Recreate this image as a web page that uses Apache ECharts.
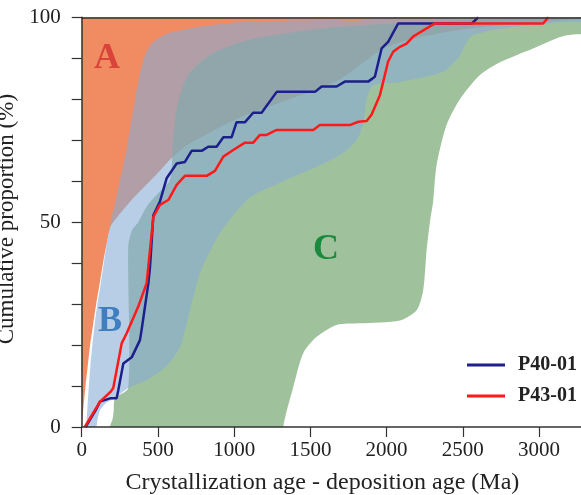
<!DOCTYPE html>
<html>
<head>
<meta charset="utf-8">
<script src="https://cdn.jsdelivr.net/npm/echarts@6/dist/echarts.min.js"></script>
<style>
  html, body { margin: 0; padding: 0; background: #fff; }
  #chart { width: 581px; height: 495px; }
</style>
</head>
<body>
<div id="chart"></div>
<script>
// x: crystallization age - deposition age (Ma), y: cumulative proportion (%)
var xTicks = [0, 500, 1000, 1500, 2000, 2500, 3000];
var yLabels = [0, 50, 100];

// field A (convergent) - outline, runs past the frame and is clipped
var fieldA = [
  [-40, -10], [0, 0], [12, 5], [25, 10], [40, 15], [55, 20], [75, 25], [95, 30],
  [118, 35], [140, 40], [165, 45], [190, 49], [228, 51], [317, 55], [420, 59],
  [524, 63], [600, 66], [700, 69], [800, 71], [950, 74], [1100, 76.5],
  [1250, 78.5], [1400, 80.5], [1550, 82.5], [1700, 85], [1850, 89],
  [1980, 92.4], [2200, 95], [2525, 97.2], [2800, 98.3], [3070, 99],
  [3275, 99.5], [3500, 100], [3500, 115], [-40, 115]
];

// field B (collisional)
var fieldB = [
  [25, -10], [30, 0], [38, 5], [47, 10], [57, 15], [70, 20], [85, 25], [103, 30],
  [125, 35], [145, 40], [165, 45], [180, 48], [195, 51], [215, 54], [250, 60],
  [295, 68], [350, 80], [393, 88], [430, 92], [470, 94], [557, 96], [754, 97.6],
  [1082, 98.9], [1628, 99.4], [1900, 100], [2100, 115], [3500, 115],
  [3500, 99.5], [3180, 98.9], [2743, 97.2], [2566, 95.6], [2525, 94],
  [2481, 90.7], [2371, 86.7], [2087, 84.2], [1912, 83.4], [1869, 80],
  [1847, 74], [1803, 70], [1700, 66.5], [1541, 63.5], [1322, 60], [1104, 56],
  [951, 49.7], [870, 45], [776, 37.5], [700, 27], [645, 19.5], [560, 15],
  [430, 11.5], [305, 9.5], [218, 7], [174, 6.2], [150, 5.5], [120, 4.1],
  [105, 2], [98, 0], [96, -10]
];

// field C (extensional)
var fieldC = [
  [180, -10], [186, 0], [203, 2], [210, 4], [218, 7], [305, 9.5], [305, 44],
  [330, 48], [370, 50], [430, 54], [500, 57], [575, 60], [590, 63], [600, 70],
  [630, 79], [700, 86], [850, 91], [1100, 94.5], [1640, 97.5], [2500, 99.3],
  [3275, 100], [3500, 101], [3500, 96.5], [3180, 95.6], [2961, 92.4],
  [2743, 89], [2612, 85.9], [2481, 80], [2393, 73.7], [2328, 64], [2305, 55],
  [2284, 50], [2262, 43], [2240, 33.4], [2197, 28.5], [2087, 26], [1825, 25.3],
  [1672, 24.9], [1541, 22], [1453, 18], [1388, 9.8], [1322, 0], [1310, -10]
];

var p40 = [
  [25, 0], [90, 4], [120, 6.2], [186, 7], [229, 7], [240, 9], [273, 15.5],
  [328, 17], [382, 21.2], [393, 23.7], [437, 35], [448, 39], [470, 51.7],
  [513, 55], [557, 60.7], [623, 64.3], [677, 64.7], [721, 67.4], [787, 67.4],
  [830, 68.4], [885, 68.4], [929, 70.7], [983, 70.7], [1016, 74.4],
  [1071, 74.4], [1125, 76.7], [1180, 76.7], [1279, 81.8], [1530, 81.8],
  [1574, 83.1], [1672, 83.1], [1726, 84.3], [1879, 84.3], [1923, 85.5],
  [1967, 92.4], [2010, 94], [2076, 98.5], [2560, 98.5], [2600, 100]
];

var p43 = [
  [20, 0], [120, 6.2], [190, 8.6], [207, 9.5], [262, 20.4], [295, 22.9],
  [371, 29.4], [426, 35.1], [470, 51.3], [513, 54.2], [568, 55.4],
  [623, 59.1], [677, 61.3], [820, 61.3], [874, 62.5], [929, 66], [994, 67.6],
  [1071, 69.4], [1125, 69.4], [1169, 71.3], [1213, 71.3], [1279, 72.5],
  [1519, 72.5], [1562, 73.7], [1759, 73.7], [1814, 74.5], [1869, 74.7],
  [1901, 76.2], [1956, 81], [2010, 89.2], [2043, 91.6], [2087, 92.8],
  [2131, 93.6], [2174, 95.3], [2262, 97.3], [2317, 98.5], [3027, 98.5],
  [3060, 100]
];

var fieldNames = ['A', 'B', 'C'];
var fieldLabelPos = [[166, 89.8], [186, 25.6], [1602, 43.2]];

var serif = '"Liberation Serif", "Times New Roman", serif';

function polygonSeries(points, fill) {
  return {
    type: 'custom',
    silent: true,
    data: points,
    encode: { x: 0, y: 1 },
    renderItem: function (params, api) {
      if (params.dataIndex !== 0) return;
      var cs = params.coordSys;
      return {
        type: 'polygon',
        shape: {
          points: points.map(function (p) { return api.coord(p); }),
          smooth: 0.25
        },
        style: { fill: fill },
        clipPath: { type: 'rect', shape: { x: cs.x, y: cs.y, width: cs.width, height: cs.height } }
      };
    }
  };
}

var chart = echarts.init(document.getElementById('chart'));

var option = {
  animation: false,
  grid: { left: 81.7, right: 0, top: 17.3, bottom: 68, outerBoundsMode: 'none', containLabel: false },
  legend: {
    orient: 'vertical',
    left: 462,
    top: 350,
    icon: 'rect',
    itemWidth: 38,
    itemHeight: 3,
    itemGap: 11,
    data: ['P40-01', 'P43-01'],
    textStyle: { fontFamily: serif, fontWeight: 'bold', fontSize: 20, color: '#222', lineHeight: 20, padding: [0, 0, 0, 8] }
  },
  xAxis: [{
    type: 'value',
    min: 0,
    max: 3275,
    interval: 500,
    z: 10,
    name: 'Crystallization age - deposition age (Ma)',
    nameLocation: 'middle',
    nameGap: 44,
    nameTextStyle: { fontFamily: serif, fontSize: 24, color: '#222', padding: [0, 18, 0, 0] },
    axisLine: { lineStyle: { color: '#333', width: 1.5 } },
    axisTick: { length: 10, lineStyle: { color: '#333', width: 1.2 } },
    axisLabel: {
      margin: 13, fontFamily: serif, fontSize: 21, color: '#222', showMaxLabel: false,
      formatter: function (v) { return xTicks.indexOf(v) >= 0 ? String(v) : ''; }
    },
    splitLine: { show: false }
  }, {
    type: 'value',
    position: 'top',
    min: 0,
    max: 3275,
    z: 10,
    axisLine: { lineStyle: { color: '#333', width: 1.5 } },
    axisTick: { show: false },
    axisLabel: { show: false },
    splitLine: { show: false }
  }],
  yAxis: {
    type: 'value',
    min: 0,
    max: 100,
    interval: 10,
    z: 10,
    name: 'Cumulative proportion (%)',
    nameLocation: 'middle',
    nameGap: 48,
    nameTextStyle: { fontFamily: serif, fontSize: 23, color: '#222', padding: [0, 0, 0, 6] },
    axisLine: { show: true, lineStyle: { color: '#333', width: 1.5 } },
    axisTick: { show: true, length: 10, lineStyle: { color: '#333', width: 1.2 } },
    axisLabel: {
      margin: 21, fontFamily: serif, fontSize: 21, color: '#222',
      formatter: function (v) { return yLabels.indexOf(v) >= 0 ? String(v) : ''; }
    },
    splitLine: { show: false }
  },
  series: [
    polygonSeries(fieldA, '#F08B62'),
    polygonSeries(fieldC, 'rgba(118,168,114,0.7)'),
    polygonSeries(fieldB, 'rgba(137,172,213,0.6)'),
    {
      name: 'P40-01',
      type: 'line',
      data: p40,
      showSymbol: false,
      color: '#1c1f8c',
      lineStyle: { width: 2.5, color: '#1c1f8c' }
    },
    {
      name: 'P43-01',
      type: 'line',
      data: p43,
      showSymbol: false,
      color: '#ff1a1a',
      lineStyle: { width: 2.5, color: '#ff1a1a' }
    },
    {
      type: 'custom',
      silent: true,
      data: fieldLabelPos,
      encode: { x: 0, y: 1 },
      renderItem: function (params, api) {
        var colors = ['#d9433a', '#3f7fc1', '#1c8a3e'];
        var pt = api.coord([api.value(0), api.value(1)]);
        return {
          type: 'text',
          x: pt[0],
          y: pt[1],
          style: {
            text: fieldNames[params.dataIndex],
            fill: colors[params.dataIndex],
            font: 'bold 36px ' + serif,
            align: 'center',
            verticalAlign: 'middle'
          }
        };
      }
    }
  ]
};

chart.setOption(option);
</script>
</body>
</html>
